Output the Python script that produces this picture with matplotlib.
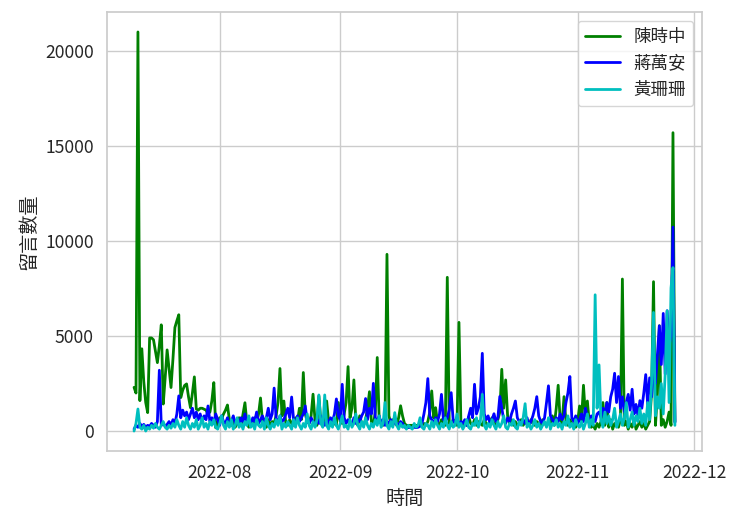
import matplotlib
matplotlib.use("Agg")
import matplotlib.pyplot as plt
import matplotlib.dates as mdates
import pandas as pd
import seaborn as sns

# 12-hour samples from 2022-07-10 to 2022-11-26
start_date = "2022-07-10"
n_points = 279
freq = "12h"

series_names = ["陳時中", "蔣萬安", "黃珊珊"]

chen = [
    2300, 2000, 21000, 1600, 4330, 2600, 1500, 970, 4900, 4900,
    4800, 4200, 3600, 4500, 5590, 1420, 2800, 4270, 3300, 2290,
    3800, 5450, 5800, 6120, 1760, 2150, 2400, 2480, 1800, 1230,
    2000, 2850, 1160, 1100, 1200, 1200, 1150, 1100, 900, 1000,
    1600, 2550, 170, 400, 700, 650, 900, 1100, 1370, 600,
    300, 500, 200, 400, 700, 300, 900, 1490, 400, 200,
    500, 300, 700, 400, 900, 1740, 500, 300, 200, 600,
    300, 500, 400, 800, 1500, 3290, 800, 1580, 400, 300,
    600, 400, 300, 700, 500, 1200, 600, 3080, 900, 500,
    400, 800, 1940, 600, 300, 1850, 500, 400, 700, 1580,
    500, 300, 600, 400, 300, 1500, 500, 400, 900, 1500,
    3390, 700, 1200, 2690, 500, 300, 800, 400, 300, 600,
    1200, 2070, 500, 300, 1000, 3870, 600, 400, 300, 500,
    9300, 800, 400, 600, 500, 300, 700, 1330, 800, 400,
    300, 300, 300, 300, 280, 300, 300, 350, 300, 400,
    300, 500, 1000, 2110, 700, 1230, 400, 300, 600, 400,
    300, 8090, 400, 300, 600, 500, 300, 5720, 400, 300,
    500, 300, 740, 400, 300, 600, 300, 500, 400, 300,
    600, 400, 300, 500, 700, 400, 300, 600, 1000, 3250,
    1200, 2690, 800, 400, 600, 300, 500, 300, 400, 600,
    300, 500, 400, 300, 600, 400, 300, 500, 400, 300,
    600, 400, 300, 500, 400, 800, 300, 1200, 2410, 600,
    400, 1810, 500, 300, 600, 400, 300, 200, 500, 1320,
    600, 2410, 800, 1580, 400, 200, 300, 100, 400, 200,
    500, 1500, 300, 1500, 200, 600, 100, 400, 300, 200,
    600, 8000, 300, 500, 100, 400, 200, 600, 100, 300,
    500, 200, 400, 100, 300, 500, 2000, 7860, 300, 2000,
    5540, 300, 600, 200, 500, 1000, 300, 15700, 500,
]

chiang = [
    100, 300, 200, 400, 250, 350, 200, 300, 250, 400,
    300, 200, 500, 3200, 300, 400, 250, 350, 500, 300,
    600, 400, 900, 1850, 700, 1100, 800, 1000, 600, 900,
    1200, 700, 1000, 600, 900, 500, 800, 600, 1320, 500,
    700, 400, 900, 600, 300, 800, 500, 400, 700, 300,
    500, 800, 400, 600, 300, 700, 500, 900, 400, 600,
    300, 700, 500, 1000, 400, 600, 800, 500, 700, 1200,
    600, 900, 2260, 700, 400, 800, 500, 600, 900, 1200,
    700, 1790, 600, 400, 800, 500, 700, 900, 1320, 500,
    400, 700, 500, 300, 600, 400, 800, 500, 300, 600,
    400, 700, 500, 900, 1690, 800, 600, 2460, 700, 400,
    600, 500, 300, 700, 400, 600, 500, 800, 1000, 1710,
    600, 1200, 900, 2510, 700, 500, 800, 400, 600, 300,
    500, 400, 600, 300, 500, 400, 300, 500, 400, 200,
    200, 180, 200, 150, 200, 180, 200, 250, 400, 900,
    1500, 2760, 800, 600, 400, 700, 500, 900, 1930, 600,
    500, 700, 1100, 2020, 600, 400, 700, 300, 500, 400,
    600, 300, 800, 1200, 700, 2460, 900, 1200, 1800, 4090,
    900, 600, 800, 400, 600, 910, 500, 700, 1820, 1200,
    600, 400, 700, 500, 900, 1200, 1580, 700, 500, 400,
    600, 400, 700, 300, 500, 800, 1200, 1810, 800, 500,
    400, 700, 1500, 2380, 800, 600, 400, 700, 500, 900,
    600, 800, 1500, 2000, 2870, 700, 500, 800, 400, 600,
    900, 500, 1200, 700, 400, 800, 600, 500, 900, 1000,
    700, 1200, 800, 1500, 1000, 1800, 2200, 3040, 1500, 2870,
    1200, 1800, 1000, 1500, 1930, 1100, 2200, 900, 1400, 800,
    1600, 1200, 2000, 2970, 1400, 2800, 1800, 3000, 2500, 4000,
    5540, 3500, 6190, 3000, 6330, 4500, 5000, 10730, 450,
]

huang = [
    0, 400, 1160, 200, 100, 300, 0, 200, 100, 300,
    150, 400, 200, 100, 300, 500, 200, 100, 300, 150,
    400, 200, 600, 300, 100, 500, 200, 700, 300, 100,
    400, 200, 600, 100, 300, 700, 200, 400, 100, 500,
    300, 600, 200, 100, 400, 800, 300, 100, 500, 200,
    600, 100, 300, 700, 200, 400, 100, 500, 300, 800,
    200, 400, 100, 600, 300, 200, 500, 100, 700, 300,
    100, 400, 200, 600, 300, 800, 100, 400, 200, 500,
    300, 100, 600, 200, 700, 300, 100, 400, 200, 900,
    300, 100, 500, 200, 600, 1900, 400, 200, 1900, 300,
    100, 500, 200, 700, 300, 100, 400, 800, 200, 300,
    100, 600, 200, 400, 900, 300, 100, 500, 200, 700,
    300, 100, 400, 200, 600, 300, 800, 200, 400, 1500,
    300, 100, 500, 200, 970, 300, 100, 400, 200, 300,
    100, 300, 200, 100, 400, 200, 300, 700, 200, 100,
    400, 300, 100, 500, 200, 600, 300, 100, 400, 200,
    700, 300, 100, 500, 200, 300, 900, 200, 400, 100,
    300, 600, 200, 100, 400, 300, 700, 200, 500, 1930,
    300, 100, 400, 200, 600, 300, 100, 500, 200, 400,
    800, 200, 100, 400, 300, 600, 200, 100, 500, 300,
    700, 1440, 200, 400, 100, 300, 600, 200, 400, 100,
    300, 500, 200, 700, 100, 400, 300, 600, 200, 400,
    100, 500, 300, 800, 200, 400, 100, 600, 300, 200,
    500, 100, 400, 900, 200, 600, 300, 7170, 1200, 3480,
    600, 200, 1000, 400, 800, 300, 600, 1200, 200, 500,
    900, 300, 700, 1500, 200, 600, 1000, 300, 800, 500,
    1200, 400, 900, 300, 1500, 600, 2500, 6240, 800, 1800,
    1200, 2500, 900, 3000, 6330, 1500, 7530, 8600, 300,
]

colors = ["#008000", "#0000ff", "#00bfbf"]

sns.set_theme(style="whitegrid")
plt.rcParams["font.family"] = ["Noto Sans CJK TC", "DejaVu Sans"]

dates = pd.date_range(start_date, periods=n_points, freq=freq)

fig = plt.figure(figsize=(7.4, 5.27), dpi=100)
ax = fig.add_axes([0.1446, 0.1442, 0.8040, 0.8330])

for name, vals, col in zip(series_names, [chen, chiang, huang], colors):
    ax.plot(dates, vals, color=col, label=name, linewidth=2.0)

ax.xaxis.set_major_locator(mdates.MonthLocator())
ax.xaxis.set_major_formatter(mdates.DateFormatter("%Y-%m"))
ax.tick_params(axis="both", labelsize=12.6)
ax.set_xlabel("時間", fontsize=13.8)
ax.set_ylabel("留言數量", fontsize=13.8)
ax.legend(loc="upper right", fontsize=12.6)

fig.savefig("out.png", dpi=100)
